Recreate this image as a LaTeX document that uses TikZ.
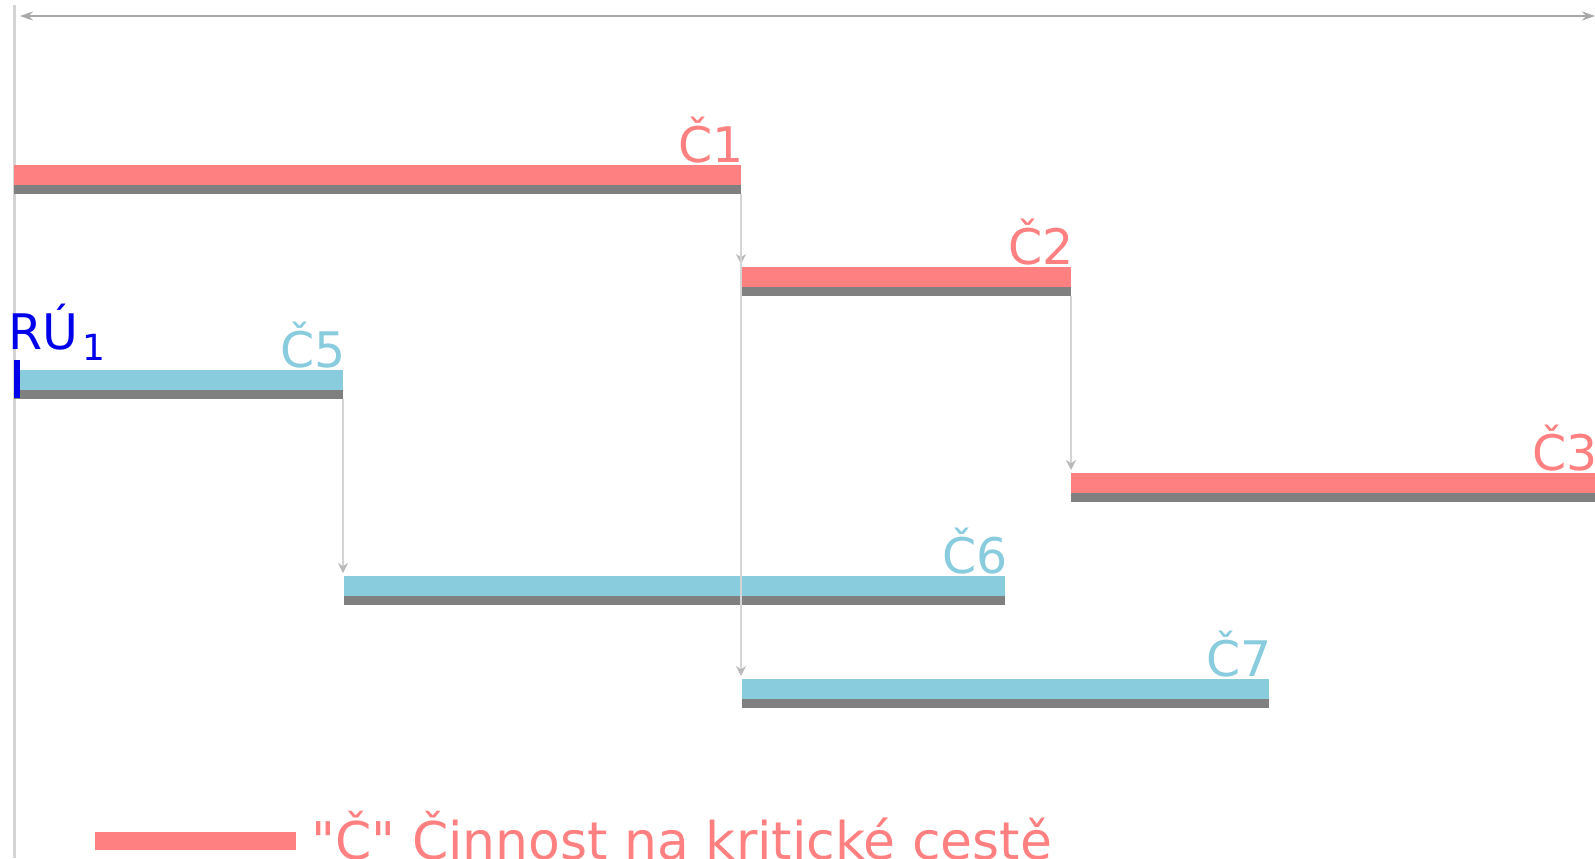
\documentclass[tikz,border=0pt]{standalone}
\usepackage{fontspec}
\setmainfont{DejaVu Sans}
\newfontfamily\plainfont{DejaVu Sans}
\usetikzlibrary{arrows.meta, positioning}
\definecolor{kred} {RGB}{255,128,128}
\definecolor{kblue}{RGB}{136,204,221}
\definecolor{bgray}{RGB}{128,128,128}
\definecolor{lgray}{RGB}{212,212,212}
\definecolor{agray}{RGB}{168,168,168}
\definecolor{rblue}{RGB}{0,0,235}
\tikzset{
  % Red bar: activity on the critical path
  RBar/.style={rectangle,fill=kred,minimum width=#1,minimum height=9.75pt,
               inner sep=0pt,outer sep=0pt,anchor=north west},
  % Blue bar: other activity
  BBar/.style={rectangle,fill=kblue,minimum width=#1,minimum height=9.75pt,
               inner sep=0pt,outer sep=0pt,anchor=north west},
  % Gray strip under each bar
  GBar/.style={rectangle,fill=bgray,minimum width=#1,minimum height=4.5pt,
               inner sep=0pt,outer sep=0pt,anchor=north west},
  % Labels
  RLab/.style={text=kred,font=\fontsize{24.5}{29}\selectfont,inner sep=0pt,
               anchor=base east,xshift=1.5pt,yshift=1.5pt},
  BLab/.style={text=kblue,font=\fontsize{24.5}{29}\selectfont,inner sep=0pt,
               anchor=base east,xshift=1.5pt,yshift=1.2pt},
  % Arrows
  Arr/.style   ={-{Stealth[length=5pt,width=5pt,color=agray!80]},
                 line width=1.2pt,color=lgray,shorten >=1.5pt},
  TopArr/.style={{Stealth[length=6.5pt,width=4.5pt]}-{Stealth[length=6.5pt,width=4.5pt]},
                 line width=1.4pt,color=agray},
}
\begin{document}
\begin{tikzpicture}[x=0.5pt,y=-0.5pt]
      \useasboundingbox (0,0) rectangle (1595,858);
      \clip (0,0) rectangle (1595,858);
      % time axis
      \coordinate (v0) at (14.5,5);
      \coordinate (v1) at (14.5,858);
      \draw[lgray,line width=1.5pt] (v0) -- (v1);
      \coordinate (tl) at (20,16);
      \coordinate (tr) at (1595,16);
      \draw[TopArr] (tl) -- (tr);
      % critical activities
      \node[RBar=363.5pt] at (14,165) (c1) {};
      \node[GBar=363.5pt] at (c1.south west) (c1g) {};
      \node[RLab] at (c1.north east) (l1) {Č1};
      \node[RBar=164.5pt] at (742,267) (c2) {};
      \node[GBar=164.5pt] at (c2.south west) (c2g) {};
      \node[RLab] at (c2.north east) (l2) {Č2};
      \node[RBar=265pt] at (1071,473) (c3) {};
      \node[GBar=265pt] at (c3.south west) (c3g) {};
      \node[RLab,xshift=-3pt] at (c3.north east) (l3) {Č3};
      % other activities
      \node[BBar=164.5pt] at (14,370) (c5) {};
      \node[GBar=164.5pt] at (c5.south west) (c5g) {};
      \node[BLab] at (c5.north east) (l5) {Č5};
      \node[BBar=330.5pt] at (344,576) (c6) {};
      \node[GBar=330.5pt] at (c6.south west) (c6g) {};
      \node[BLab] at (c6.north east) (l6) {Č6};
      \node[BBar=263.5pt] at (742,679) (c7) {};
      \node[GBar=263.5pt] at (c7.south west) (c7g) {};
      \node[BLab] at (c7.north east) (l7) {Č7};
      % resource mark
      \node[rectangle,fill=rblue,minimum width=3pt,minimum height=19pt,
            inner sep=0pt,anchor=north west] at (14,360) (ru) {};
      \node[text=rblue,font=\fontsize{24.5}{29}\selectfont,inner sep=0pt,
            anchor=base west] at (8,349) (rul)
            {RÚ\hspace{2.2pt}\raisebox{-5.5pt}{\fontsize{18}{21}\selectfont 1}};
      % links
      \draw[Arr] (c1g.south east) -- (c1g.south east |- c2.north);
      \draw[Arr] (c1g.south east) -- (c1g.south east |- c7.north);
      \draw[Arr] (c2g.south east) -- (c2g.south east |- c3.north);
      \draw[Arr] (c5g.south east) -- (c5g.south east |- c6.north);
      % legend
      \node[rectangle,fill=kred,minimum width=100.5pt,minimum height=9pt,
            inner sep=0pt,anchor=north west] at (95,832) (leg) {};
      \node[text=kred,font=\plainfont\fontsize{26}{31}\selectfont,inner sep=0pt,
            anchor=base west] at (311,859) (legt) {"Č" Činnost na kritické cestě};
    \end{tikzpicture}
\end{document}
